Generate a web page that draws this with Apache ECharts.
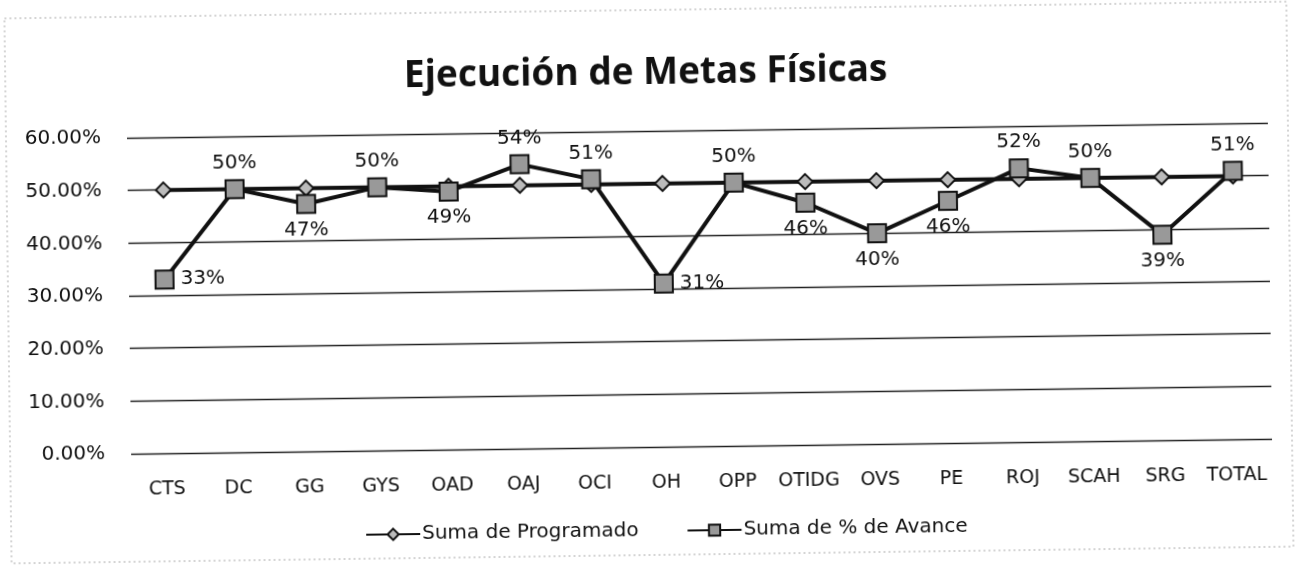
<!DOCTYPE html>
<html><head><meta charset="utf-8">
<script src="https://cdn.jsdelivr.net/npm/echarts@6/dist/echarts.min.js"></script>
<style>
html,body{margin:0;padding:0;background:#fff;overflow:hidden;}
#c{width:1297px;height:576px;transform:rotate(-0.75deg);transform-origin:50% 50%;}
</style></head>
<body><div id="c"></div>
<script>
const categories = ['CTS','DC','GG','GYS','OAD','OAJ','OCI','OH','OPP','OTIDG','OVS','PE','ROJ','SCAH','SRG','TOTAL'];
const programado = [0.50,0.50,0.50,0.50,0.50,0.50,0.50,0.50,0.50,0.50,0.50,0.50,0.50,0.50,0.50,0.50];
const avance = [0.33,0.50,0.47,0.50,0.49,0.54,0.51,0.31,0.50,0.46,0.40,0.46,0.52,0.50,0.39,0.51];
const yTicks = [0,0.1,0.2,0.3,0.4,0.5,0.6];

const labelSide = {CTS:'right',GG:'bottom',OAD:'bottom',OH:'right',OTIDG:'bottom',OVS:'bottom',PE:'bottom',SRG:'bottom'};
const font = "'DejaVu Sans', sans-serif";
const titleFont = "'Open Sans', 'Noto Sans', sans-serif";

const chart = echarts.init(document.getElementById('c'));
chart.setOption({
  animation:false,
  backgroundColor:'#fff',
  title:{text:'Ejecución de Metas Físicas',left:'center',top:50,
    textStyle:{fontFamily:titleFont,fontSize:37,fontWeight:'bold',color:'#111'}},
  graphic:[{type:'rect',shape:{x:8,y:10,width:1282,height:545},
    style:{fill:'none',stroke:'#aaa',lineWidth:1,lineDash:[2,3]}}],
  grid:{left:129,right:27,top:131,bottom:129},
  legend:{bottom:30,left:357,itemGap:48,itemWidth:54,itemHeight:14,
    textStyle:{fontFamily:font,fontSize:20,color:'#111',padding:[0,0,0,-3]},
    data:['Suma de Programado','Suma de % de Avance']},
  xAxis:{type:'category',data:categories,boundaryGap:true,
    axisLine:{show:false},axisTick:{show:false},
    axisLabel:{fontFamily:font,fontSize:19,color:'#111',margin:27,interval:0}},
  yAxis:{type:'value',min:0,max:0.6,interval:0.1,
    axisLine:{show:false},axisTick:{show:false},
    axisLabel:{fontFamily:font,fontSize:20,color:'#111',margin:26,
      formatter:v=>(v*100).toFixed(2)+'%'},
    splitLine:{lineStyle:{color:'#222',width:1.3}}},
  series:[
    {name:'Suma de Programado',type:'line',data:programado,
      symbol:'diamond',symbolSize:15,
      lineStyle:{color:'#111',width:4},
      itemStyle:{color:'#bbb',borderColor:'#111',borderWidth:2},z:2},
    {name:'Suma de % de Avance',type:'line',
      data:avance.map((v,i)=>({value:v,label:{position:labelSide[categories[i]]||'top'}})),
      symbol:'rect',symbolSize:18,
      lineStyle:{color:'#111',width:4},
      itemStyle:{color:'#999',borderColor:'#111',borderWidth:2},
      label:{show:true,fontFamily:font,fontSize:20,color:'#111',distance:6,
        formatter:p=>Math.round(p.value*100)+'%'},z:3}
  ]
});
</script></body></html>
